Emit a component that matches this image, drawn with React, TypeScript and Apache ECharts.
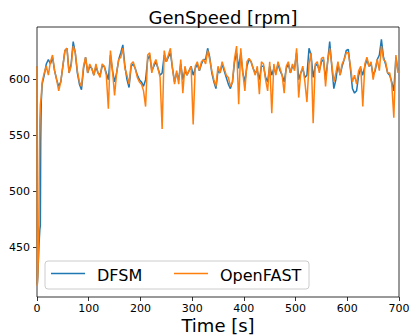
import React, { useEffect, useRef } from "react";
import * as echarts from "echarts";

// Startup transient (fine time resolution)
const OF_START_T = [0, 0.5, 1.5, 2.5, 3.5, 4.5, 5.5, 6.5, 8];
const OF_START_V = [612, 416, 425, 440, 470, 520, 565, 578, 584];
const DFSM_START_T = [0, 0.5, 1.5, 2.5, 3.5, 4.5, 5.5, 6.5, 7.2, 8.2];
const DFSM_START_V = [612, 417, 424, 436, 448, 458, 466, 470, 545, 580];

// Main record, sampled every 4 s from t = 10 s
const MAIN_T0 = 10;
const MAIN_DT = 4;
const OPENFAST = [
  598, 606, 612, 604, 616, 622, 608, 600, 590, 598, 612, 626, 628, 606, 612, 630, 624, 608, 598, 594,
  612, 620, 606, 614, 610, 604, 614, 606, 602, 614, 612, 604, 574, 626, 608, 586, 606, 618, 620, 628,
  610, 604, 596, 614, 616, 610, 602, 598, 596, 590, 576, 622, 624, 606, 614, 618, 610, 602, 556, 626,
  616, 622, 628, 610, 596, 608, 596, 618, 588, 612, 604, 608, 612, 560, 612, 616, 608, 616, 618, 614,
  626, 618, 608, 600, 594, 612, 606, 616, 610, 604, 602, 594, 598, 619, 630, 578, 628, 606, 590, 616,
  619, 616, 610, 604, 612, 587, 616, 614, 600, 590, 616, 570, 614, 604, 616, 610, 604, 588, 612, 616,
  606, 614, 608, 628, 584, 606, 612, 598, 580, 614, 624, 561, 614, 616, 606, 619, 620, 594, 616, 628,
  614, 598, 606, 616, 604, 614, 618, 624, 624, 612, 598, 604, 596, 608, 612, 576, 614, 620, 612, 616,
  600, 610, 618, 608, 630, 618, 616, 606, 606, 596, 566, 622, 606,
];
const DFSM = [
  596, 604, 614, 618, 614, 620, 608, 600, 594, 598, 612, 626, 628, 606, 614, 634, 624, 606, 596, 591,
  610, 620, 606, 612, 610, 604, 612, 606, 604, 612, 612, 606, 600, 622, 608, 598, 606, 618, 624, 631,
  612, 600, 593, 612, 614, 610, 604, 600, 598, 594, 600, 618, 622, 608, 612, 616, 610, 604, 606, 622,
  616, 620, 624, 610, 598, 606, 600, 614, 600, 608, 604, 608, 612, 604, 610, 614, 608, 614, 618, 618,
  628, 620, 606, 598, 592, 608, 606, 614, 608, 602, 596, 592, 598, 616, 624, 610, 624, 606, 598, 612,
  618, 616, 610, 606, 608, 600, 612, 612, 602, 598, 612, 604, 610, 606, 614, 608, 604, 598, 610, 614,
  606, 612, 610, 624, 600, 606, 610, 602, 604, 628, 622, 602, 612, 614, 608, 616, 618, 600, 616, 634,
  612, 592, 600, 614, 604, 612, 618, 626, 627, 610, 592, 588, 590, 604, 610, 604, 612, 618, 612, 614,
  604, 608, 618, 622, 636, 620, 614, 606, 604, 598, 590, 620, 608,
];

const X_TICKS = [0, 100, 200, 300, 400, 500, 600, 700];
const Y_TICKS = [450, 500, 550, 600];
const SERIES_NAMES = ["DFSM", "OpenFAST"];
const COLORS = ["#1f77b4", "#ff7f0e"];
const X_NAME = "Time [s]";

const FONT = "DejaVu Sans";

function buildSeries(startT: number[], startV: number[], main: number[]) {
  const pts: [number, number][] = startT.map((t, i) => [t, startV[i]]);
  main.forEach((v, i) => pts.push([MAIN_T0 + MAIN_DT * i, v]));
  return pts;
}

export default function App() {
  const ref = useRef<HTMLDivElement>(null);
  useEffect(() => {
    document.body.style.margin = "0";
    const chart = echarts.init(ref.current!, null, { renderer: "svg" });
    const gl = 37, gr = 399, gt = 27, gb = 297;
    chart.setOption({
      animation: false,
      backgroundColor: "#ffffff",
      title: {
        text: "GenSpeed [rpm]",
        left: (gl + gr) / 2,
        textAlign: "center",
        top: 3,
        textStyle: { fontFamily: FONT, fontSize: 18, fontWeight: "normal", color: "#000" },
      },
      grid: {
        left: gl,
        right: 411 - gr,
        top: gt,
        bottom: 336 - gb,
        outerBoundsMode: "none",
        containLabel: false,
        show: true,
        borderColor: "#000",
        borderWidth: 0.8,
        backgroundColor: "transparent",
      },
      xAxis: {
        type: "value",
        min: 0,
        max: 700,
        interval: 100,
        axisLine: { show: false },
        axisTick: { show: true, length: 4, inside: false, lineStyle: { color: "#000", width: 0.8 }, customValues: X_TICKS },
        axisLabel: { fontFamily: FONT, fontSize: 11, color: "#000", margin: 6, customValues: X_TICKS },
        splitLine: { show: false },
      },
      yAxis: {
        type: "value",
        min: 406,
        max: 647,
        axisLine: { show: false },
        axisTick: { show: true, length: 4, lineStyle: { color: "#000", width: 0.8 }, customValues: Y_TICKS },
        axisLabel: { fontFamily: FONT, fontSize: 11, color: "#000", margin: 7, customValues: Y_TICKS },
        splitLine: { show: false },
      },
      series: [
        {
          name: SERIES_NAMES[0],
          type: "line",
          data: buildSeries(DFSM_START_T, DFSM_START_V, DFSM),
          showSymbol: false,
          symbol: "none",
          lineStyle: { color: COLORS[0], width: 1.5 },
          itemStyle: { color: COLORS[0] },
        },
        {
          name: SERIES_NAMES[1],
          type: "line",
          data: buildSeries(OF_START_T, OF_START_V, OPENFAST),
          showSymbol: false,
          symbol: "none",
          lineStyle: { color: COLORS[1], width: 1.5 },
          itemStyle: { color: COLORS[1] },
        },
      ],
      graphic: [
        {
          type: "text",
          x: (gl + gr) / 2,
          y: 325,
          style: { text: X_NAME, font: `18px '${FONT}'`, fill: "#000", align: "center", verticalAlign: "middle" },
        },
        {
          type: "rect",
          shape: { x: 45, y: 261, width: 264, height: 28, r: 3 },
          style: { fill: "rgba(255,255,255,0.8)", stroke: "#cccccc", lineWidth: 1 },
          z: 100,
        },
        {
          type: "line",
          shape: { x1: 51, y1: 273.5, x2: 85, y2: 273.5 },
          style: { stroke: COLORS[0], lineWidth: 1.5 },
          z: 101,
        },
        {
          type: "text",
          x: 97,
          y: 275,
          style: { text: SERIES_NAMES[0], font: `16px '${FONT}'`, fill: "#000", verticalAlign: "middle" },
          z: 101,
        },
        {
          type: "line",
          shape: { x1: 174, y1: 273.5, x2: 208, y2: 273.5 },
          style: { stroke: COLORS[1], lineWidth: 1.5 },
          z: 101,
        },
        {
          type: "text",
          x: 220,
          y: 275,
          style: { text: SERIES_NAMES[1], font: `16px '${FONT}'`, fill: "#000", verticalAlign: "middle" },
          z: 101,
        },
      ],
    });
    return () => chart.dispose();
  }, []);
  return <div ref={ref} style={{ width: 411, height: 336 }} />;
}
